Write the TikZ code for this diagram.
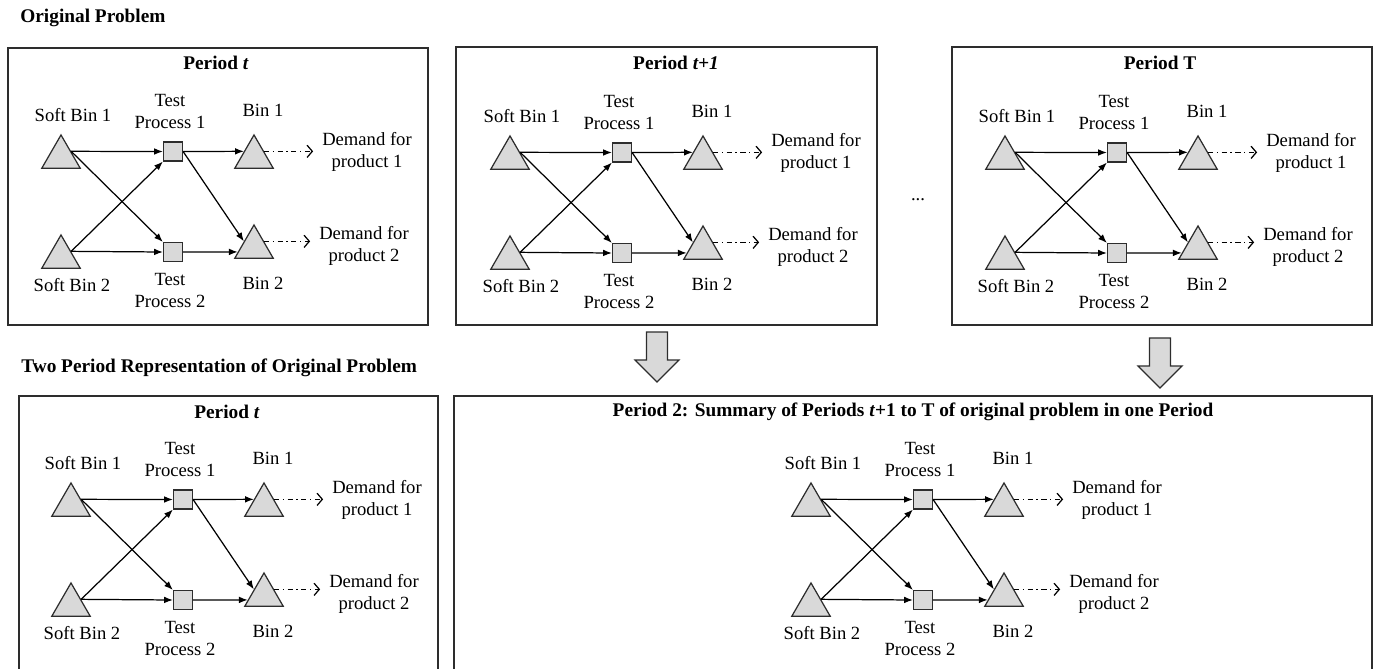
\documentclass[tikz,border=0pt]{standalone}
\usepackage{fontspec}
\setmainfont{Liberation Serif}
\usetikzlibrary{shapes.geometric,arrows.meta,calc,positioning}

\definecolor{binfill}{RGB}{217,217,217}
\definecolor{boxline}{RGB}{45,45,45}

\tikzset{
  softbin/.style={regular polygon,regular polygon sides=3,draw=boxline,fill=binfill,
    minimum size=0.89cm,inner sep=0pt,line width=0.7pt},
  testbox/.style={rectangle,draw=boxline,fill=binfill,minimum size=0.38cm,
    inner sep=0pt,line width=0.7pt},
  flow/.style={-{Latex[length=5pt,width=3.8pt]},line width=0.7pt},
  demand/.style={-{Straight Barb[length=3pt,width=7pt]},line width=0.7pt,
    dash pattern=on 3pt off 2pt on 0.7pt off 2pt},
  lbl/.style={align=center,inner sep=0pt},
  heading/.style={lbl,font=\fontsize{11}{13}\selectfont\bfseries},
  periodbox/.style={draw=boxline,line width=1pt},
  blockarrow/.style={draw=boxline,fill=binfill,line width=0.7pt},
}

% one period network: #1 name prefix, (#2,#3) apex of soft bin 1
\newcommand{\binnet}[3]{%
  \begin{scope}[shift={(#2,#3)}]
    \node[softbin](#1sb1) at (0,22.2){};
    \node[softbin](#1sb2) at (0,122.2){};
    \node[testbox](#1tp1) at (112,16.5){};
    \node[testbox](#1tp2) at (112,117){};
    \node[softbin](#1bin1) at (193,22.2){};
    \node[softbin](#1bin2) at (193,112.2){};
    \node[lbl](#1sb1l) at (12,-20){Soft Bin 1};
    \node[lbl](#1sb2l) at (11,150){Soft Bin 2};
    \node[lbl](#1tp1l) at (109,-23.5){Test\\Process 1};
    \node[lbl](#1tp2l) at (109,155.5){Test\\Process 2};
    \node[lbl](#1bin1l) at (202,-25){Bin 1};
    \node[lbl](#1bin2l) at (202,148){Bin 2};
    \node[lbl](#1dem1) at (306,17){Demand for\\product 1};
    \node[lbl](#1dem2) at (303,111){Demand for\\product 2};

    \draw[flow] (#1sb1.side 3) -- (#1tp1.west);
    \draw[flow] (#1sb1.side 3) -- (#1tp2.north west);
    \draw[flow] (#1sb2.side 3) -- (#1tp1.south west);
    \draw[flow] (#1sb2.side 3) -- (#1tp2.west);
    \draw[flow] (#1tp1.east) -- (#1bin1.side 1);
    \draw[flow] (#1tp1.east) -- (#1bin2.side 1);
    \draw[flow] (#1tp2.east) -- ($(#1bin2.corner 1)!.8!(#1bin2.corner 2)$);
    \draw[demand,shorten >=5pt] (#1bin1.side 3) -- (#1bin1.side 3 -| #1dem1.west);
    \draw[demand,shorten >=5pt] (#1bin2.side 3) -- (#1bin2.side 3 -| #1dem2.west);
  \end{scope}}

\begin{document}
\begin{tikzpicture}[x=0.02cm,y=-0.02cm,font=\fontsize{10.6}{12.5}\selectfont]
  \useasboundingbox (0,0) rectangle (1379,669);

  % headings
  \node[heading,anchor=west](orig) at (20,18){Original Problem};
  \node[heading,anchor=west](twop) at (21,368){Two Period Representation of Original Problem};

  % period boxes
  \draw[periodbox] (8,48) rectangle (428,325);
  \draw[periodbox] (456,47) rectangle (877,325);
  \draw[periodbox] (952,47) rectangle (1372,325);
  \draw[periodbox] (19,669) |- (438,396) -- (438,669);
  \draw[periodbox] (454,669) |- (1372,396) -- (1372,669);

  \node[heading](pa) at (216,63){Period \textit{t}};
  \node[heading](pb) at (676,63){Period \textit{t+1}};
  \node[heading](pc) at (1160,63){Period T};
  \node[heading](pd) at (227,412){Period \textit{t}};
  \node[heading](pe) at (913,412){Period 2: Summary of Periods \textit{t}+1 to T of original problem in one Period};

  \node[lbl](dots) at (918,200){...};

  \binnet{a}{61}{135}
  \binnet{b}{510}{136}
  \binnet{c}{1005}{136}
  \binnet{d}{71}{483}
  \binnet{e}{811}{483}

  % summary arrows
  \foreach \cx/\ty in {657/332,1160/338}
    \draw[blockarrow] ({\cx-10.5},\ty) -- ({\cx+10.5},\ty) -- ({\cx+10.5},\ty+28)
      -- ({\cx+22},\ty+28) -- (\cx,\ty+50) -- ({\cx-22},\ty+28) -- ({\cx-10.5},\ty+28) -- cycle;
\end{tikzpicture}
\end{document}
